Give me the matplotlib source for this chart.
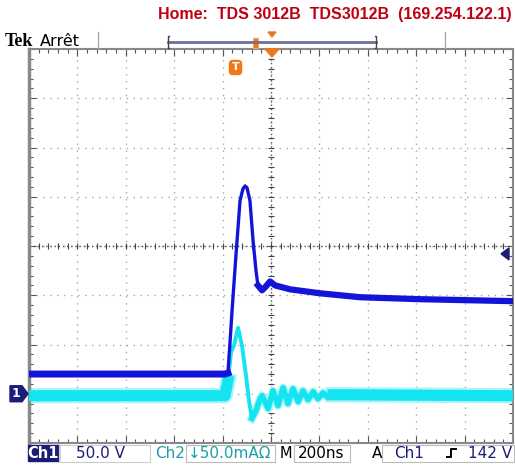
import numpy as np
import matplotlib.pyplot as plt
from matplotlib.patches import FancyBboxPatch, Polygon, Rectangle

# scope settings
CH1_SCALE = 50.0     # V/div
CH2_SCALE = 50.0     # mA/div
TIME_SCALE = 200.0   # ns/div
CH1_POS = -3.0       # divisions
CH2_POS = -3.0
TRIG_LEVEL = 142.0   # V

# Ch1 voltage (ns, V)
ch1_t = [-1000, -190, -178, -170, -161, -145, -128, -116, -107, -99, -87,
         -74, -62, -54, -37, -21, -4, 17, 79, 202, 368, 616, 1000]
ch1_v = [20, 20, 21, 50, 84, 140, 196, 208, 211, 209, 196,
         155, 125, 110, 105, 109, 114, 110, 106, 102, 98, 96, 94]

# Ch2 current (ns, mA)
ch2_t = [-1000, -190, -178, -165, -153, -136, -120, -103, -91, -79, -62, -45,
         -37, -12, 8, 29, 50, 70, 91, 112, 132, 153, 174, 194, 215, 236, 256,
         1000]
ch2_i = [-2, -2, 13, 42, 49, 67, 49, 18, -7, -25, -17, -5,
         -2, -15, 3, -12, 6, -10, 5, -8, 3, -6, 2, -5, 1, -4, -1,
         -2]

BLUE = '#1414d8'
CYAN = '#14e4f0'
HALO = '#a8f4fa'
NAVY = '#1c1c78'
ORANGE = '#f07818'
DARKRED = '#c00010'
TEAL = '#1aa0a8'

fig = plt.figure(figsize=(5.15, 4.66), dpi=100)
fig.patch.set_facecolor('white')

W, H = 515.0, 466.0
left, right, top, bottom = 29, 513, 49, 443
ax = fig.add_axes([left / W, 1 - bottom / H, (right - left) / W, (bottom - top) / H])
ax.set_xlim(-5, 5)
ax.set_ylim(-4, 4)

# graticule
for gx in range(-4, 5):
    ax.axvline(gx, color='#a8a8a8', lw=1.0, ls=(0, (1, 4)), zorder=1)
for gy in range(-3, 4):
    ax.axhline(gy, color='#a8a8a8', lw=1.0, ls=(0, (1, 4)), zorder=1)
ax.axvline(0, color='#555555', lw=1.0, ls=(0, (1, 2)), zorder=1)
ax.axhline(0, color='#555555', lw=1.0, ls=(0, (1, 2)), zorder=1)
minor_x = np.arange(-5, 5.01, 0.2)
minor_y = np.arange(-4, 4.01, 0.2)
ax.plot(minor_x, np.zeros_like(minor_x), ls='none', marker='|', ms=5,
        color='#444444', mew=0.8, zorder=1)
ax.plot(np.zeros_like(minor_y), minor_y, ls='none', marker='_', ms=5,
        color='#444444', mew=0.8, zorder=1)

ax.set_xticks(range(-5, 6))
ax.set_xticks(minor_x, minor=True)
ax.set_yticks(range(-4, 5))
ax.set_yticks(minor_y, minor=True)
ax.tick_params(which='both', direction='in', top=True, right=True,
               labelbottom=False, labelleft=False, color='#555555')
ax.tick_params(which='major', length=5, width=0.8)
ax.tick_params(which='minor', length=3, width=0.8)
for side, sp in ax.spines.items():
    sp.set_color('#888888')
    sp.set_linewidth(1.5)
ax.spines['left'].set_linewidth(2.5)

# traces: thin line on the fast edges, wider noisy band where the signal is slow
t1 = np.array(ch1_t) / TIME_SCALE
y1 = np.array(ch1_v) / CH1_SCALE + CH1_POS
t2 = np.array(ch2_t) / TIME_SCALE
y2 = np.array(ch2_i) / CH2_SCALE + CH2_POS

for sl in (slice(0, 3), slice(26, None)):
    ax.plot(t2[sl], y2[sl], color=HALO, lw=11, zorder=2)
    ax.plot(t2[sl], y2[sl], color=CYAN, lw=8, zorder=3)
ax.plot(t2[9:27], y2[9:27], color=HALO, lw=6, solid_joinstyle='round', zorder=2)
ax.plot(t2[9:27], y2[9:27], color=CYAN, lw=4, solid_joinstyle='round', zorder=3)
ax.plot(t2[1:11], y2[1:11], color=CYAN, lw=2.8, solid_joinstyle='round', zorder=3)

ax.plot(t1[:3], y1[:3], color=BLUE, lw=5, zorder=4)
ax.plot(t1[13:], y1[13:], color=BLUE, lw=4.5, solid_joinstyle='round', zorder=4)
ax.plot(t1, y1, color=BLUE, lw=2.4, solid_joinstyle='round', zorder=4)

# overlay in pixel coordinates for the screen furniture
ov = fig.add_axes([0, 0, 1, 1], zorder=10)
ov.set_xlim(0, W)
ov.set_ylim(H, 0)
ov.axis('off')
ov.patch.set_alpha(0)

ov.text(512, 15, 'Home:  TDS 3012B  TDS3012B  (169.254.122.1)', color=DARKRED,
        fontsize=11.5, fontweight='bold', family='Liberation Sans',
        ha='right', va='center')
ov.text(5, 42, 'Tek', fontsize=13, fontweight='bold', family='Liberation Serif',
        ha='left', va='center', color='black')
ov.text(40, 41, 'Arrêt', fontsize=11.5, family='DejaVu Sans', ha='left',
        va='center', color='black')
ov.plot([98, 98], [32, 48], color='#aaaaaa', lw=1)
ov.plot([445, 445], [32, 48], color='#aaaaaa', lw=1)

# record bar with trigger position
ov.plot([168, 376], [42, 42], color='#6b7296', lw=2)
ov.plot([169, 168, 168, 169], [36, 36, 48, 48], color='#444444', lw=1)
ov.plot([375, 376, 376, 375], [36, 36, 48, 48], color='#444444', lw=1)
ov.add_patch(Rectangle((252.5, 37.5), 5, 10, facecolor=ORANGE,
                       edgecolor='#f4a860', lw=0.8))
ov.add_patch(Polygon([[268, 32], [276, 32], [272, 37]], color=ORANGE))
ov.add_patch(Polygon([[265, 49], [279, 49], [272, 57]], color=ORANGE))

# trigger marker "T"
ov.add_patch(FancyBboxPatch((230, 61), 11, 13, boxstyle='round,pad=0.5,rounding_size=3',
                            facecolor=ORANGE, edgecolor=ORANGE))
ov.text(235.5, 67.5, 'T', color='white', fontsize=8, fontweight='bold',
        ha='center', va='center', family='DejaVu Sans')

# trigger level arrow
trig_px = top + (4 - (TRIG_LEVEL / CH1_SCALE + CH1_POS)) * (bottom - top) / 8
ov.add_patch(Polygon([[501, trig_px], [509, trig_px - 6], [509, trig_px + 6]],
                     color=NAVY))

# channel 1 ground marker
g1 = top + (4 - CH1_POS) * (bottom - top) / 8
ov.add_patch(Polygon([[10, g1 - 8], [22, g1 - 8], [28, g1], [22, g1 + 8],
                      [10, g1 + 8]], color=NAVY))
ov.text(16, g1, '1', color='white', fontsize=9, fontweight='bold',
        ha='center', va='center')

# status bar
ov.add_patch(Rectangle((28, 445), 31, 16, color=NAVY))
ov.text(43.5, 453, 'Ch1', color='white', fontsize=10.5, fontweight='bold',
        ha='center', va='center')
ov.add_patch(Rectangle((59, 445), 91, 17, fill=False, edgecolor='#cccccc', lw=0.8))
ov.text(76, 453, '50.0 V', color=NAVY, fontsize=11, ha='left', va='center')
ov.text(155, 453, 'Ch2', color=TEAL, fontsize=11, ha='left', va='center')
ov.add_patch(Rectangle((186, 445), 89, 17, fill=False, edgecolor='#bbbbbb', lw=0.8))
ov.text(188, 453, '↓50.0mAΩ', color=TEAL, fontsize=11, ha='left', va='center')
ov.text(280, 453, 'M', color='black', fontsize=10.5, ha='left', va='center')
ov.add_patch(Rectangle((294, 445), 56, 17, fill=False, edgecolor='#bbbbbb', lw=0.8))
ov.text(298, 453, '200ns', color='black', fontsize=11, ha='left', va='center')
ov.text(372, 453, 'A', color='black', fontsize=11, ha='left', va='center')
ov.add_patch(Rectangle((382, 445), 132, 17, fill=False, edgecolor='#bbbbbb', lw=0.8))
ov.text(394, 453, 'Ch1', color=NAVY, fontsize=11, ha='left', va='center')
ov.plot([447, 451, 451, 456], [457, 457, 449, 449], color='black', lw=1.4)
ov.text(512, 453, '%d V' % TRIG_LEVEL, color=NAVY, fontsize=11, ha='right',
        va='center')

fig.savefig('out.png', dpi=100)
